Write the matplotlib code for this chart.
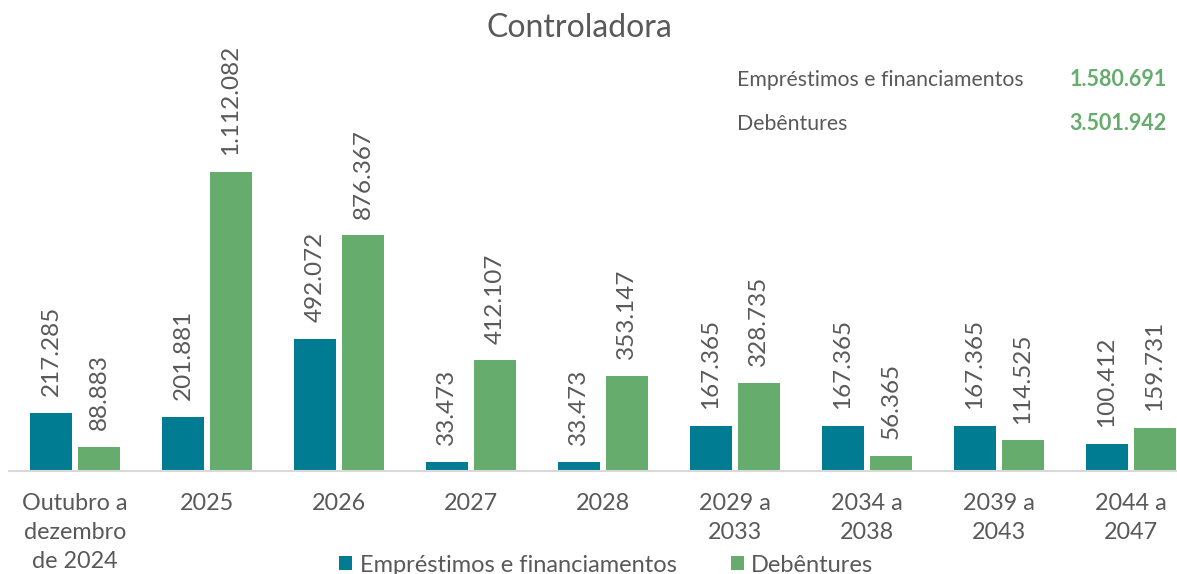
import matplotlib.pyplot as plt
import numpy as np

# Data
categories = ["Outubro a\ndezembro\nde 2024", "2025", "2026", "2027", "2028",
              "2029 a\n2033", "2034 a\n2038", "2039 a\n2043", "2044 a\n2047"]
emprestimos = [217285, 201881, 492072, 33473, 33473, 167365, 167365, 167365, 100412]
debentures = [88883, 1112082, 876367, 412107, 353147, 328735, 56365, 114525, 159731]
series_names = ["Empréstimos e financiamentos", "Debêntures"]
totals = ["1.580.691", "3.501.942"]

teal = "#007C92"
green = "#65AC6D"
grey = "#595959"

plt.rcParams["font.family"] = ["Lato", "DejaVu Sans"]


def fmt(v):
    return f"{v:,}".replace(",", ".")


fig = plt.figure(figsize=(11.77, 5.74), dpi=100)
ax = fig.add_axes([9 / 1177, 103 / 574, 1168 / 1177, 410 / 574])

x = np.arange(len(categories))
w = 0.318
off = 0.182
b1 = ax.bar(x - off, emprestimos, w, color=teal, label=series_names[0])
b2 = ax.bar(x + off, debentures, w, color=green, label=series_names[1])

for bars, vals in ((b1, emprestimos), (b2, debentures)):
    for rect, v in zip(bars, vals):
        ax.annotate(fmt(v), (rect.get_x() + rect.get_width() / 2, rect.get_height()),
                    xytext=(0, 12), textcoords="offset points", rotation=90,
                    ha="center", va="bottom", fontsize=17.5, color=grey)

ax.set_xlim(-0.5, 8.35)
ax.set_ylim(0, 410 * 3720)
ax.set_xticks(x)
ax.set_xticklabels(categories, fontsize=16.8, color=grey, linespacing=1.47)
ax.tick_params(axis="x", length=0, pad=16)
ax.set_yticks([])
for s in ("top", "right", "left"):
    ax.spines[s].set_visible(False)
ax.spines["bottom"].set_color("#D9D9D9")
ax.spines["bottom"].set_linewidth(1.5)

fig.text(579 / 1177, 1 - 28 / 574, "Controladora", ha="center", va="center",
         fontsize=23, color=grey)

# summary box top right
for i, (name, tot) in enumerate(zip(series_names, totals)):
    yy = 1 - (80 + 44 * i) / 574
    fig.text(737 / 1177, yy, name, ha="left", va="center", fontsize=15.3, color=grey)
    fig.text(1167 / 1177, yy, tot, ha="right", va="center", fontsize=15.5,
             color=green, fontweight="bold")

fig.legend(handles=[b1, b2], labels=series_names, loc="center",
           bbox_to_anchor=(0.515, 1 - 565 / 574), ncol=2, frameon=False,
           fontsize=17, labelcolor=grey, handlelength=0.55, handleheight=0.55,
           handletextpad=0.3, columnspacing=2.3)

fig.savefig("out.png", dpi=100)
